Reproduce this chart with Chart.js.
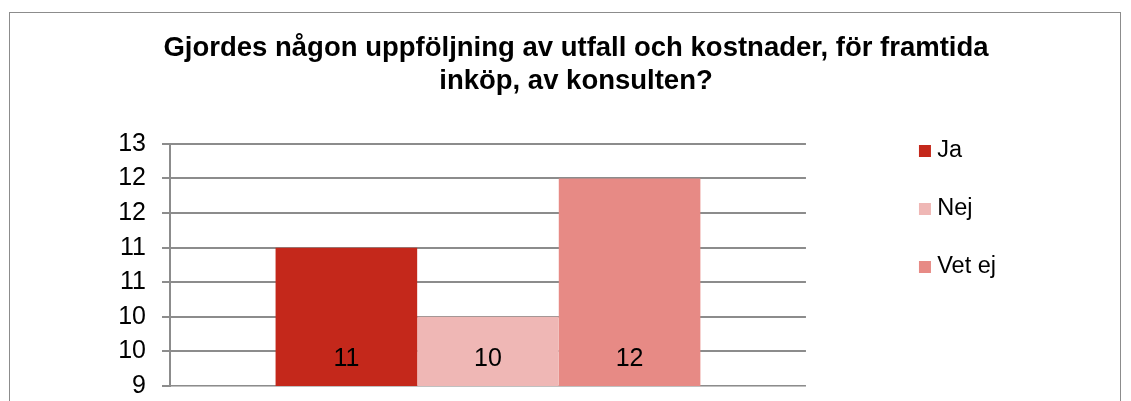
<!DOCTYPE html>
<html>
<head>
<meta charset="utf-8">
<script src="https://cdn.jsdelivr.net/npm/chart.js@4"></script>
<style>
  html, body { margin: 0; padding: 0; background: #fff; overflow: hidden; }
  #frame { position: absolute; left: 9px; top: 12px; width: 1110px; height: 420px; border: 1px solid #8c8c8c; }
  #chart { position: absolute; left: 10px; top: 1px; }
</style>
</head>
<body>
<div id="frame"></div>
<canvas id="chart" width="1110" height="416"></canvas>
<script>
// Chart data
var titleLines = ['Gjordes någon uppföljning av utfall och kostnader, för framtida', 'inköp, av konsulten?'];
var categories = [''];
var seriesNames = ['Ja', 'Nej', 'Vet ej'];
var seriesValues = [11, 10, 12];
var seriesColors = ['#c4281b', '#efb7b5', '#e78a85'];
var tickLabels = ['9', '10', '10', '11', '11', '12', '12', '13'];
var axisMin = 9;
var axisMax = 12.5;
var axisStep = 0.5;

var fontFamily = '"Liberation Sans", Arial, sans-serif';

// values printed inside the bars, just above the axis
var valueLabels = {
    id: 'valueLabels',
    afterDatasetsDraw: function (chart) {
        var ctx = chart.ctx;
        var yScale = chart.scales.y;
        var labelY = yScale.getPixelForValue(yScale.min) - 27;
        ctx.save();
        ctx.font = '25px ' + fontFamily;
        ctx.fillStyle = '#000000';
        ctx.textAlign = 'center';
        ctx.textBaseline = 'middle';
        chart.data.datasets.forEach(function (ds, i) {
            chart.getDatasetMeta(i).data.forEach(function (bar, j) {
                ctx.fillText('' + ds.data[j], bar.x, labelY);
            });
        });
        ctx.restore();
    }
};

var datasets = seriesNames.map(function (name, i) {
    return {
        label: name,
        data: [seriesValues[i]],
        backgroundColor: seriesColors[i],
        borderWidth: 0,
        categoryPercentage: 0.668,
        barPercentage: 1
    };
});

// invisible right-hand boxes used only to hold space around the legend
function spacer(width, weight) {
    return {
        type: 'linear',
        position: 'right',
        weight: weight,
        grid: { display: false },
        border: { display: false },
        ticks: { display: false },
        afterFit: function (scale) { scale.width = width; }
    };
}

new Chart(document.getElementById('chart'), {
    type: 'bar',
    data: {
        labels: categories,
        datasets: datasets
    },
    plugins: [valueLabels],
    options: {
        responsive: false,
        animation: false,
        layout: {
            padding: { left: 22, right: 0, top: 0, bottom: 0 }
        },
        scales: {
            x: {
                grid: { display: false },
                ticks: { display: false },
                border: { display: true, color: '#c0c0c0', width: 1 },
                afterFit: function (scale) { scale.height = 31; }
            },
            y: {
                min: axisMin,
                max: axisMax,
                ticks: {
                    stepSize: axisStep,
                    padding: 16,
                    color: '#000',
                    font: { family: fontFamily, size: 25 },
                    callback: function (value, index) { return tickLabels[index]; }
                },
                grid: { color: '#8c8c8c', lineWidth: 2, tickLength: 8 },
                border: { color: '#8c8c8c', width: 2 },
                afterFit: function (scale) { scale.width = 138; }
            },
            gapInner: spacer(84, 0),
            gapOuter: spacer(114, 2000)
        },
        plugins: {
            title: {
                display: true,
                text: titleLines,
                color: '#000',
                font: { family: fontFamily, size: 27.5, weight: 'bold', lineHeight: 1.18 },
                padding: { top: 31.25, bottom: 46.75 }
            },
            legend: {
                position: 'right',
                align: 'center',
                labels: {
                    usePointStyle: true,
                    pointStyle: 'rect',
                    boxWidth: 1,
                    boxHeight: 12,
                    padding: 34.5,
                    color: '#000',
                    font: { family: fontFamily, size: 23.5 }
                }
            },
            tooltip: { enabled: false }
        }
    }
});
</script>
</body>
</html>
